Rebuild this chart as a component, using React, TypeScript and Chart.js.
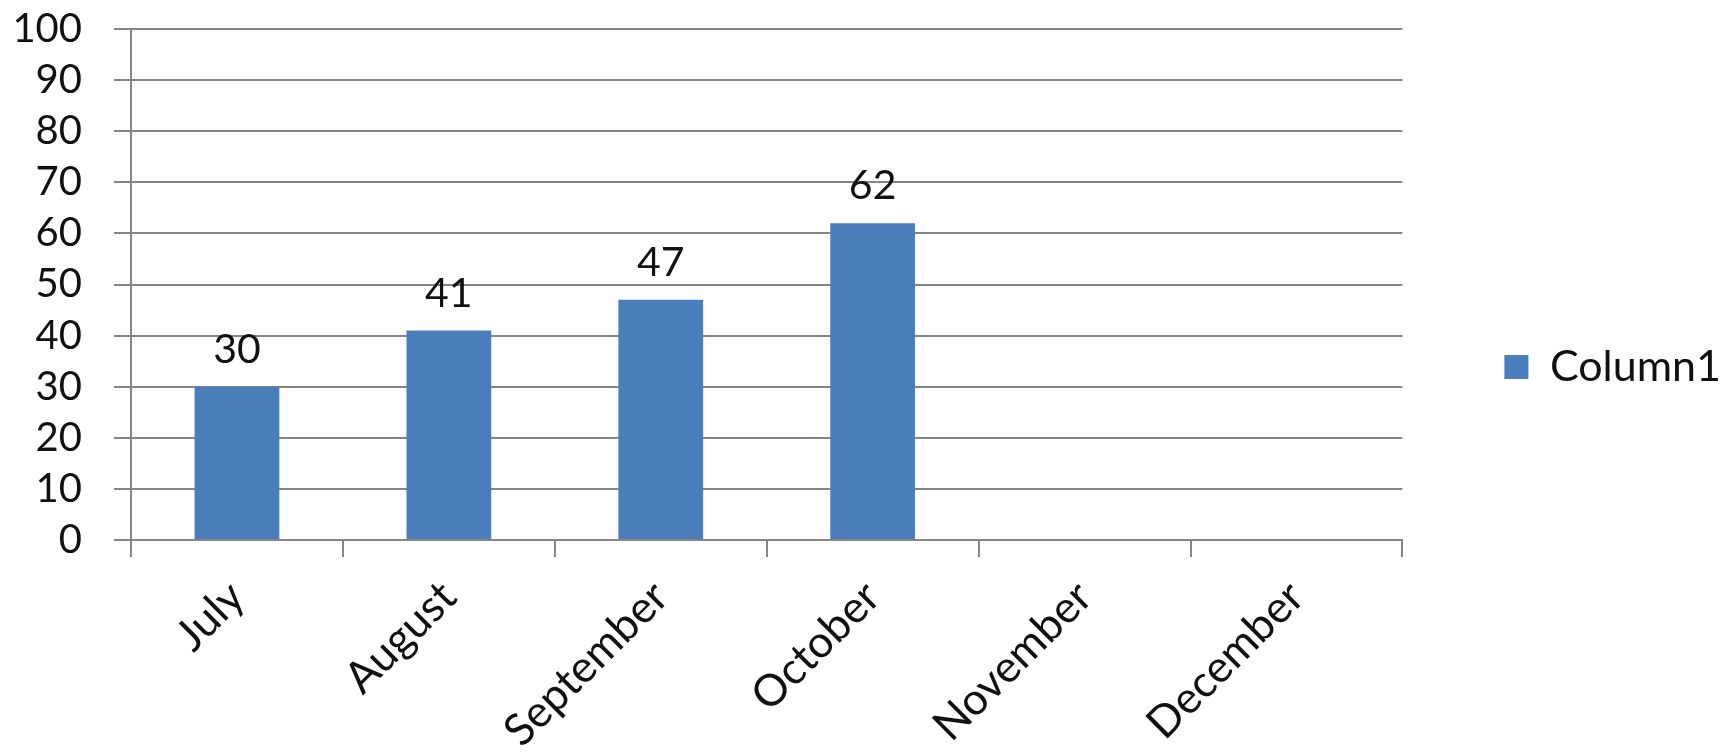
import React, { useEffect, useRef } from 'react';
import { Chart, registerables } from 'chart.js';

Chart.register(...registerables);

const categories = ['July', 'August', 'September', 'October', 'November', 'December'];
const values: (number | null)[] = [30, 41, 47, 62, null, null];
const seriesName = 'Column1';
const yMin = 0;
const yMax = 100;
const yStep = 10;

const FONT = 'Lato';
const TEXT = '#111111';
const GRID = '#858585';
const BAR = '#4a7ebb';

const valueLabels = {
  id: 'valueLabels',
  afterDatasetsDraw(chart: any) {
    const ctx = chart.ctx;
    chart.data.datasets.forEach((ds: any, di: number) => {
      const meta = chart.getDatasetMeta(di);
      meta.data.forEach((el: any, i: number) => {
        const v = ds.data[i];
        if (v == null) return;
        ctx.save();
        ctx.font = `41px ${FONT}`;
        ctx.fillStyle = TEXT;
        ctx.textAlign = 'center';
        ctx.textBaseline = 'middle';
        ctx.fillText(String(v), el.x, el.y - 37);
        ctx.restore();
      });
    });
  },
};

export default function App() {
  const ref = useRef<HTMLCanvasElement | null>(null);
  useEffect(() => {
    document.body.style.margin = '0';
    const canvas = ref.current;
    if (!canvas) return;
    const chart = new Chart(canvas, {
      type: 'bar',
      data: {
        labels: categories,
        datasets: [
          {
            label: seriesName,
            data: values,
            backgroundColor: BAR,
            borderWidth: 0,
            categoryPercentage: 0.8,
            barPercentage: 0.5,
          },
        ],
      },
      options: {
        responsive: false,
        animation: false,
        layout: { padding: { top: 0, right: 4, bottom: 0, left: 0 } },
        scales: {
          x: {
            grid: {
              display: true,
              drawOnChartArea: false,
              drawTicks: true,
              tickLength: 17,
              color: GRID,
              lineWidth: 2,
              offset: true,
            },
            border: { display: true, color: GRID, width: 2 },
            ticks: {
              font: { family: FONT, size: 44 },
              color: TEXT,
              minRotation: 45,
              maxRotation: 45,
              padding: 14,
              autoSkip: false,
            },
            afterFit: (s: any) => {
              s.height = 215;
            },
          },
          y: {
            min: yMin,
            max: yMax,
            ticks: {
              stepSize: yStep,
              autoSkip: false,
              font: { family: FONT, size: 40 },
              color: TEXT,
              padding: 32,
            },
            grid: { color: GRID, lineWidth: 2, tickLength: 17 },
            border: { color: GRID, width: 2 },
            afterFit: (s: any) => {
              s.width = 131;
              s.paddingTop = 29;
              s.paddingBottom = 0;
            },
          },
        },
        plugins: {
          legend: {
            position: 'right',
            align: 'start',
            title: {
              display: true,
              text: ' ',
              font: { family: FONT, size: 10, lineHeight: 1.2 },
              padding: { top: 231.5, bottom: 0 },
            },
            labels: {
              boxWidth: 24,
              boxHeight: 24,
              padding: 102,
              font: { family: FONT, size: 43 },
              color: TEXT,
            },
          },
          tooltip: { enabled: false },
        },
      },
      plugins: [valueLabels],
    });
    return () => chart.destroy();
  }, []);
  return (
    <div style={{ width: 1735, height: 755, background: '#ffffff' }}>
      <canvas ref={ref} width={1735} height={755} />
    </div>
  );
}
